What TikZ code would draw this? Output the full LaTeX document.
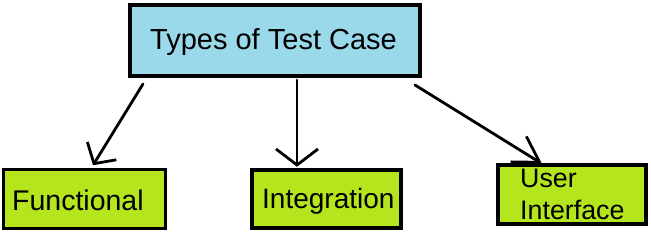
\documentclass[tikz,border=0pt]{standalone}
\usepackage{fontspec}
\setmainfont{Liberation Sans}
\usetikzlibrary{arrows.meta,calc}
\definecolor{paintblue}{RGB}{153,217,234}
\definecolor{paintlime}{RGB}{181,230,29}
\tikzset{
  boxA/.style={draw=black, line width=4pt, fill=paintblue, inner sep=0pt},
  boxB/.style={draw=black, line width=3.5pt, fill=paintlime, inner sep=0pt},
  lbl/.style={anchor=base west, inner sep=0pt, font=\fontsize{28.5}{30}\selectfont},
  conn/.style={line width=2.8pt, line cap=round}
}
\begin{document}
\begin{tikzpicture}[x=1pt,y=-1pt]
\useasboundingbox (0,0) rectangle (651,235);
\node[boxA, minimum width=290.5pt, minimum height=71pt] (top) at (274.75,40.5) {};
\node[boxB, minimum width=162pt, minimum height=59pt] (func) at (84.5,199) {};
\node[boxB, minimum width=149pt, minimum height=58pt] (integ) at (326.5,199) {};
\node[boxB, minimum width=148pt, minimum height=59pt] (ui) at (572,194.5) {};
\node[lbl, font=\fontsize{29}{31}\selectfont] (t0) at (150,50) {Types of Test Case};
\node[lbl] (t1) at (12,211) {Functional};
\node[lbl, font=\fontsize{28}{30}\selectfont] (t2) at (262,208) {Integration};
\node[lbl, font=\fontsize{26.8}{30}\selectfont] (t3) at (520,187) {User};
\node[lbl, font=\fontsize{26.8}{30}\selectfont] (t4) at (520,219) {Interface};
\draw[conn, -{Straight Barb[length=15pt,width=34pt]}]
  ($(top.south west)+(15.5,6)$) -- ($(func.north)+(8.5,-2.5)$);
\draw[conn, -{Straight Barb[length=16pt,width=42pt]}]
  ($(top.south)+(22.25,2)$) -- ($(integ.north)+(-29.5,-1.5)$);
\draw[conn, -{Straight Barb[length=25pt,width=30pt]}]
  ($(top.south east)+(-7,7)$) -- ($(ui.north)+(-30,0.5)$);
\end{tikzpicture}
\end{document}
